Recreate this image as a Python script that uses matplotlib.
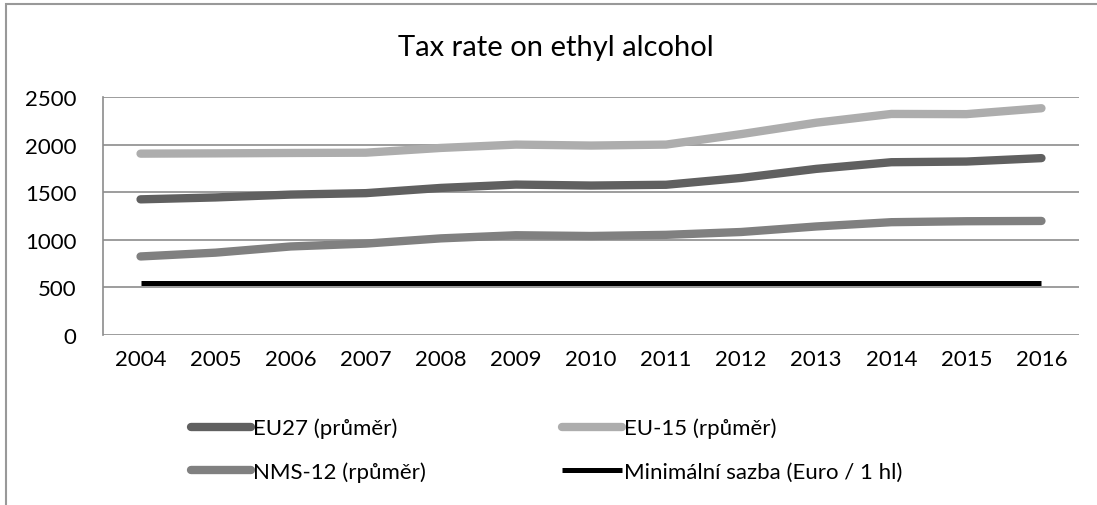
import matplotlib.pyplot as plt
from matplotlib.patches import Rectangle

plt.rcParams['font.family'] = ['Lato', 'DejaVu Sans']

years = ['2004', '2005', '2006', '2007', '2008', '2009', '2010',
         '2011', '2012', '2013', '2014', '2015', '2016']
eu27 = [1425, 1445, 1475, 1490, 1545, 1580, 1570, 1578, 1650, 1745, 1815, 1822, 1858]
eu15 = [1905, 1908, 1912, 1915, 1965, 2000, 1990, 2000, 2110, 2230, 2322, 2320, 2382]
nms12 = [825, 865, 930, 960, 1015, 1048, 1040, 1052, 1082, 1140, 1185, 1195, 1198]
minimum = [550] * len(years)

fig = plt.figure(figsize=(10.97, 5.06), dpi=100)
ax = fig.add_axes([103 / 1097, 1 - 336 / 506, 976 / 1097, 238 / 506])

x = range(len(years))
l1, = ax.plot(x, eu27, color='#606060', lw=6, solid_capstyle='round', label='EU27 (průměr)')
l2, = ax.plot(x, eu15, color='#adadad', lw=6, solid_capstyle='round', label='EU-15 (rpůměr)')
l3, = ax.plot(x, nms12, color='#808080', lw=6, solid_capstyle='round', label='NMS-12 (rpůměr)')
l4, = ax.plot(x, minimum, color='black', lw=3.6, solid_capstyle='butt',
              label='Minimální sazba (Euro / 1 hl)')

ax.set_xlim(-0.5, len(years) - 0.5)
ax.set_ylim(0, 2500)
ax.set_yticks(range(0, 2501, 500))
ax.set_xticks(list(x))
ax.set_xticklabels(years)
ax.tick_params(length=0, labelsize=16, pad=10)
ax.tick_params(axis='y', pad=19)
ax.grid(axis='y', color='#8c8c8c', lw=1.2)
ax.set_axisbelow(True)
for s in ('top', 'right', 'bottom'):
    ax.spines[s].set_visible(False)
ax.spines['left'].set_color('#8c8c8c')
ax.spines['left'].set_linewidth(1.2)

fig.text(0.507, 1 - 48 / 506, 'Tax rate on ethyl alcohol', ha='center', va='center', fontsize=21)

fig.legend(handles=[l1, l3, l2, l4], ncol=2, frameon=False, fontsize=16,
           loc='center left', bbox_to_anchor=(171 / 1097, 1 - 451 / 506),
           handlelength=2.7, handletextpad=0.1, columnspacing=6.1, labelspacing=1.05)

# outer chart frame (partly cut off at right and bottom)
fig.patches.append(Rectangle((6 / 1097, -0.1), 1.2, 1 - 5 / 506 + 0.1, transform=fig.transFigure,
                             fill=False, edgecolor='#999999', lw=1.5))

fig.savefig('out.png', dpi=100)
